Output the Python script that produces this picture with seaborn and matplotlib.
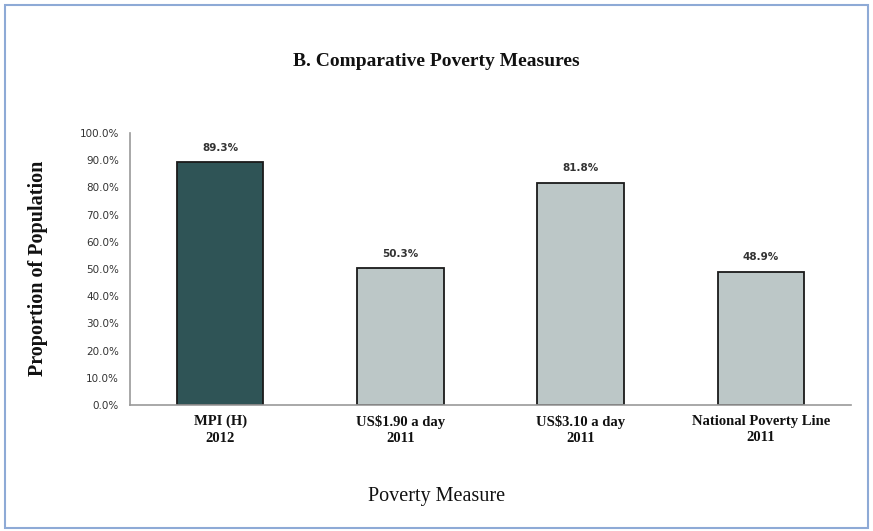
import matplotlib
matplotlib.use("Agg")
import matplotlib.pyplot as plt
import seaborn as sns
import pandas as pd
from matplotlib.patches import Rectangle
from matplotlib.ticker import FuncFormatter

categories = ["MPI (H)\n2012", "US$1.90 a day\n2011", "US$3.10 a day\n2011", "National Poverty Line\n2011"]
values = [89.3, 50.3, 81.8, 48.9]
bar_colors = ["#2f5456", "#bcc7c7", "#bcc7c7", "#bcc7c7"]
y_ticks = [0, 10, 20, 30, 40, 50, 60, 70, 80, 90, 100]

df = pd.DataFrame({"measure": categories, "share": values})

sns.set_theme(style="white")
serif = ["Liberation Serif", "DejaVu Serif"]

fig = plt.figure(figsize=(8.73, 5.31), dpi=100)
ax = fig.add_axes([130 / 873, 1 - 405 / 531, 721 / 873, 272 / 531])

sns.barplot(data=df, x="measure", y="share", hue="measure", palette=bar_colors,
            saturation=1, legend=False, width=0.48, edgecolor="#1a1a1a",
            linewidth=1.3, ax=ax)

for i, v in enumerate(values):
    ax.text(i, v + 3.5, f"{v:.1f}%", ha="center", va="bottom", fontsize=7.5,
            fontweight="bold", color="#333333", family="DejaVu Sans")

ax.set_ylim(0, 100)
ax.set_xlim(-0.5, 3.5)
ax.set_yticks(y_ticks)
ax.yaxis.set_major_formatter(FuncFormatter(lambda v, p: f"{v:.1f}%"))
ax.tick_params(axis="y", length=0, pad=8, labelsize=7.5, labelcolor="#333333")
ax.tick_params(axis="x", length=0, pad=7)
for lab in ax.get_yticklabels():
    lab.set_family("DejaVu Sans")
for lab in ax.get_xticklabels():
    lab.set_family(serif)
    lab.set_fontweight("bold")
    lab.set_fontsize(10.5)
    lab.set_color("#111111")
    lab.set_linespacing(1.35)

for side in ["top", "right"]:
    ax.spines[side].set_visible(False)
for side in ["left", "bottom"]:
    ax.spines[side].set_color("#999999")
    ax.spines[side].set_linewidth(1.2)

ax.set_xlabel("")
ax.set_ylabel("")
fig.text(0.5, 1 - 62 / 531, "B. Comparative Poverty Measures", ha="center", va="center",
         fontsize=14, fontweight="bold", family=serif, color="#111111")
fig.text(0.5, 1 - 497 / 531, "Poverty Measure", ha="center", va="center",
         fontsize=14.5, family=serif, color="#111111")
fig.text(38 / 873, 1 - 268 / 531, "Proportion of Population", ha="center", va="center",
         rotation=90, fontsize=14.5, fontweight="bold", family=serif, color="#111111")

fig.patches.append(Rectangle((5 / 873, 3 / 531), 863 / 873, 523 / 531, transform=fig.transFigure,
                             fill=False, edgecolor="#8eaad6", linewidth=1.5))

fig.savefig("out.png", dpi=100)
